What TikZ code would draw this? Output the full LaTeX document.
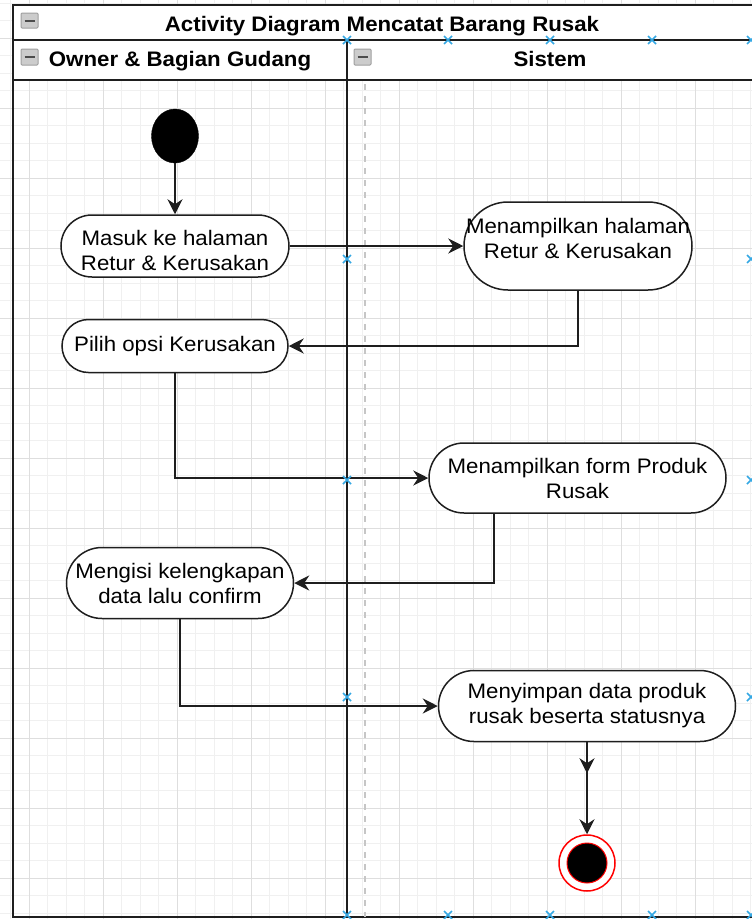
\documentclass[tikz,border=0pt]{standalone}
\usepackage{fontspec}
\setmainfont{Liberation Sans}[FakeStretch=1.06]
\usetikzlibrary{arrows.meta,shapes.geometric,decorations.markings}
\definecolor{selblue}{HTML}{35A8E4}
\definecolor{poolline}{HTML}{1E1E1E}

\begin{document}
\begin{tikzpicture}[x=1pt, y=-1pt, font=\fontsize{21}{25}\selectfont,
    act/.style 2 args={draw=poolline, line width=1.5pt, fill=white, align=center, inner sep=0pt,
                       minimum width=#1, minimum height=#2, rounded corners=#2*0.5pt},
    flow/.style={line width=2pt, draw=poolline, -{Stealth[length=15pt,width=15pt,inset=5pt]}},
    minorgrid/.style={draw=black!6, line width=1pt},
    majorgrid/.style={draw=black!13, line width=1pt},
    pool/.style={draw=poolline, line width=2pt},
    selx/.style={draw=selblue, line width=1.5pt},
    header/.style={font=\bfseries\fontsize{21}{25}\selectfont},
    minusbox/.style={fill=gray!40, draw=gray!75, line width=1pt, rounded corners=1pt}]

    \tikzstyle{startnode}=[ellipse, fill=black, draw=black, minimum width=47pt, minimum height=54pt, inner sep=0pt]
    \tikzstyle{endring}=[circle, fill=white, draw=red, line width=1.5pt, minimum size=56pt, inner sep=0pt]
    \tikzstyle{enddot}=[circle, fill=black, draw=red, line width=1pt, minimum size=40pt, inner sep=0pt]

    \useasboundingbox (0,0) rectangle (752,919);
    \clip (0,0) rectangle (752,919);
    \fill[white] (0,0) rectangle (752,919);

    \foreach \i in {-2,...,40} \draw[minorgrid] (29+18.5*\i,0) -- (29+18.5*\i,919);
    \foreach \j in {-3,...,52} \draw[minorgrid] (0,38+17.5*\j) -- (752,38+17.5*\j);
    \foreach \i in {-1,...,10} \draw[majorgrid] (29+74*\i,0) -- (29+74*\i,919);
    \foreach \j in {-1,...,13} \draw[majorgrid] (0,38+70*\j) -- (752,38+70*\j);

    \fill[white] (13,5) rectangle (756,80);
    \draw[pool] (13,5) rectangle (756,917);
    \draw[pool] (13,40) -- (756,40) (13,80) -- (756,80) (347,40) -- (347,917);
    \draw[gray!45, line width=1.5pt, dash pattern=on 6pt off 6pt] (365,84) -- (365,917);

    \draw[minusbox] (21,13) rectangle (38,28);
    \draw[black!70, line width=2pt] (24.5,20.5) -- (34.5,20.5);
    \draw[minusbox] (21,49) rectangle (38,65);
    \draw[black!70, line width=2pt] (24.5,57) -- (34.5,57);
    \draw[minusbox] (354,49) rectangle (371,65);
    \draw[black!70, line width=2pt] (357.5,57) -- (367.5,57);

    \node[header] (judul) at (382,26) {Activity Diagram Mencatat Barang Rusak};
    \node[header] (laneowner) at (180,61) {Owner \& Bagian Gudang};
    \node[header] (lanesistem) at (550,59) {Sistem};

    \node[startnode] (mulai) at (175,136) {};
    \node[act={228}{62}] (masuk) at (175,246) {\rule{0pt}{24pt}Masuk ke halaman\\Retur \& Kerusakan};
    \node[act={226}{53}] (pilih) at (175,346) {Pilih opsi Kerusakan};
    \node[act={228}{88}] (tampil) at (578,246) {Menampilkan halaman\\Retur \& Kerusakan\rule[-16pt]{0pt}{0pt}};
    \node[act={297}{70}] (form) at (577.5,478) {Menampilkan form Produk\\Rusak};
    \node[act={227}{71}] (isi) at (180,583) {Mengisi kelengkapan\\data lalu confirm};
    \node[act={297}{71}] (simpan) at (587,706) {Menyimpan data produk\\rusak beserta statusnya};
    \node[endring] (selesai) at (587,863) {};
    \node[enddot] (selesaidot) at (selesai) {};

    \draw[flow] (mulai) -- (masuk);
    \draw[flow] (masuk.east) -- (tampil.west);
    \draw[flow] (tampil.south) |- (pilih.east);
    \draw[flow] (pilih.south) |- (form.west);
    \draw[flow] ([xshift=-83.5pt]form.south) |- (isi.east);
    \draw[flow] (isi.south) |- (simpan.west);
    \draw[flow, postaction={decorate}, decoration={markings,
          mark=at position 31pt with {\arrow{Stealth[length=15pt,width=15pt,inset=5pt]}}}] (simpan) -- (selesai);

    \foreach \p in {(347,40),(448,40),(550,40),(652,40),(751,40),
                    (347,915),(448,915),(550,915),(652,915),(751,915),
                    (347,259),(347,480),(347,697),(751,259),(751,480),(751,697)}
        \draw[selx] \p +(-4,-4) -- +(4,4) +(-4,4) -- +(4,-4);
\end{tikzpicture}
\end{document}
